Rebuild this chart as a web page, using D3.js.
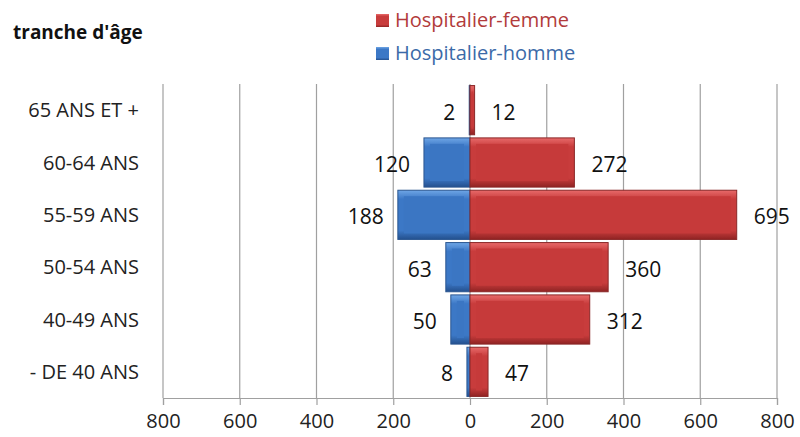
<!DOCTYPE html>
<html>
<head>
<meta charset="utf-8">
<script src="https://cdn.jsdelivr.net/npm/d3@7"></script>
<style>
  body { margin: 0; background: #fff; }
  text { font-family: "Open Sans", sans-serif; }
</style>
</head>
<body>
<div id="chart"></div>
<script>
// age groups, top to bottom
var categories = ["65 ANS ET +", "60-64 ANS", "55-59 ANS", "50-54 ANS", "40-49 ANS", "- DE 40 ANS"];
var femme = [12, 272, 695, 360, 312, 47];
var homme = [2, 120, 188, 63, 50, 8];
var xTicks = [-800, -600, -400, -200, 0, 200, 400, 600, 800];

var W = 800, H = 437;
var plot = {left: 163, right: 777, top: 84, bottom: 398};

var svg = d3.select("#chart")
  .append("svg")
  .attr("width", W)
  .attr("height", H);

var defs = svg.append("defs");

function bevelGradient(id, light, mid, dark) {
  var g = defs.append("linearGradient")
    .attr("id", id)
    .attr("x1", 0).attr("y1", 0).attr("x2", 0).attr("y2", 1);
  g.append("stop").attr("offset", "0%").attr("stop-color", light);
  g.append("stop").attr("offset", "18%").attr("stop-color", mid);
  g.append("stop").attr("offset", "82%").attr("stop-color", mid);
  g.append("stop").attr("offset", "100%").attr("stop-color", dark);
}
bevelGradient("gradRed", "#e86a6a", "#c83c3c", "#8f2323");
bevelGradient("gradBlue", "#6fa6e6", "#3c78c6", "#24508e");

var x = d3.scaleLinear()
  .domain([-800, 800])
  .range([plot.left, plot.right]);

var y = d3.scaleBand()
  .domain(categories)
  .range([plot.top, plot.bottom])
  .paddingInner(0.06)
  .paddingOuter(0.03);

// vertical grid
svg.append("g")
  .selectAll("line")
  .data(xTicks)
  .enter()
  .append("line")
    .attr("x1", function(d) { return x(d); })
    .attr("x2", function(d) { return x(d); })
    .attr("y1", plot.top)
    .attr("y2", plot.bottom)
    .attr("stroke", "#a0a0a0")
    .attr("stroke-width", 1.2);

// bottom axis
var xAxis = svg.append("g")
  .attr("transform", "translate(0," + plot.bottom + ")")
  .call(d3.axisBottom(x)
    .tickValues(xTicks)
    .tickSize(7)
    .tickPadding(9)
    .tickFormat(function(d) { return Math.abs(d); }));
xAxis.select(".domain").attr("stroke", "#a0a0a0").attr("stroke-width", 1.2);
xAxis.selectAll(".tick line").attr("stroke", "#a0a0a0").attr("stroke-width", 1.2);
xAxis.selectAll(".tick text")
  .attr("fill", "#222")
  .style("font-size", "20px")
  .style("font-family", "'Open Sans', sans-serif");

// category labels
svg.append("g")
  .selectAll("text")
  .data(categories)
  .enter()
  .append("text")
    .attr("x", 139)
    .attr("y", function(d) { return y(d) + y.bandwidth() / 2; })
    .attr("dy", "0.35em")
    .attr("text-anchor", "end")
    .attr("fill", "#222")
    .style("font-size", "20px")
    .text(function(d) { return d; });

function drawBars(values, sign, grad, inner, edge) {
  var g = svg.append("g");
  values.forEach(function(v, i) {
    var cat = categories[i];
    var x0 = Math.min(x(0), x(sign * v));
    var w = Math.abs(x(sign * v) - x(0));
    var by = y(cat), bh = y.bandwidth();
    g.append("rect")
      .attr("x", x0).attr("y", by)
      .attr("width", w).attr("height", bh)
      .attr("fill", "url(#" + grad + ")")
      .attr("stroke", edge)
      .attr("stroke-width", 1);
    var ins = Math.min(6, w / 3);
    if (w > 4) {
      g.append("rect")
        .attr("x", x0 + ins).attr("y", by + 6)
        .attr("width", Math.max(0, w - 2 * ins)).attr("height", bh - 12)
        .attr("fill", inner);
    }
  });
  return g;
}
drawBars(homme, -1, "gradBlue", "#3b76c3", "#2a5690");
drawBars(femme, 1, "gradRed", "#c63a3a", "#8a2727");

// value labels
svg.append("g")
  .selectAll("text")
  .data(femme)
  .enter()
  .append("text")
    .attr("x", function(d) { return x(d) + 17; })
    .attr("y", function(d, i) { return y(categories[i]) + y.bandwidth() / 2 + 2; })
    .attr("dy", "0.35em")
    .attr("fill", "#111")
    .style("font-size", "21px")
    .text(function(d) { return d; });

svg.append("g")
  .selectAll("text")
  .data(homme)
  .enter()
  .append("text")
    .attr("x", function(d) { return x(-d) - 14; })
    .attr("y", function(d, i) { return y(categories[i]) + y.bandwidth() / 2 + 2; })
    .attr("dy", "0.35em")
    .attr("text-anchor", "end")
    .attr("fill", "#111")
    .style("font-size", "21px")
    .text(function(d) { return d; });

// title
svg.append("text")
  .attr("x", 13)
  .attr("y", 32)
  .attr("dy", "0.35em")
  .attr("fill", "#111")
  .style("font-size", "19px")
  .style("font-weight", "bold")
  .text("tranche d'âge");

// legend
var legend = [
  {name: "Hospitalier-femme", grad: "gradRed", color: "#b23b3b", y: 20},
  {name: "Hospitalier-homme", grad: "gradBlue", color: "#3b6aa8", y: 53}
];
var lg = svg.append("g").selectAll("g")
  .data(legend)
  .enter()
  .append("g");
lg.append("rect")
  .attr("x", 376)
  .attr("y", function(d) { return d.y - 6; })
  .attr("width", 13).attr("height", 13)
  .attr("fill", function(d) { return "url(#" + d.grad + ")"; });
lg.append("text")
  .attr("x", 395)
  .attr("y", function(d) { return d.y; })
  .attr("dy", "0.35em")
  .attr("fill", function(d) { return d.color; })
  .style("font-size", "20px")
  .text(function(d) { return d.name; });
</script>
</body>
</html>
